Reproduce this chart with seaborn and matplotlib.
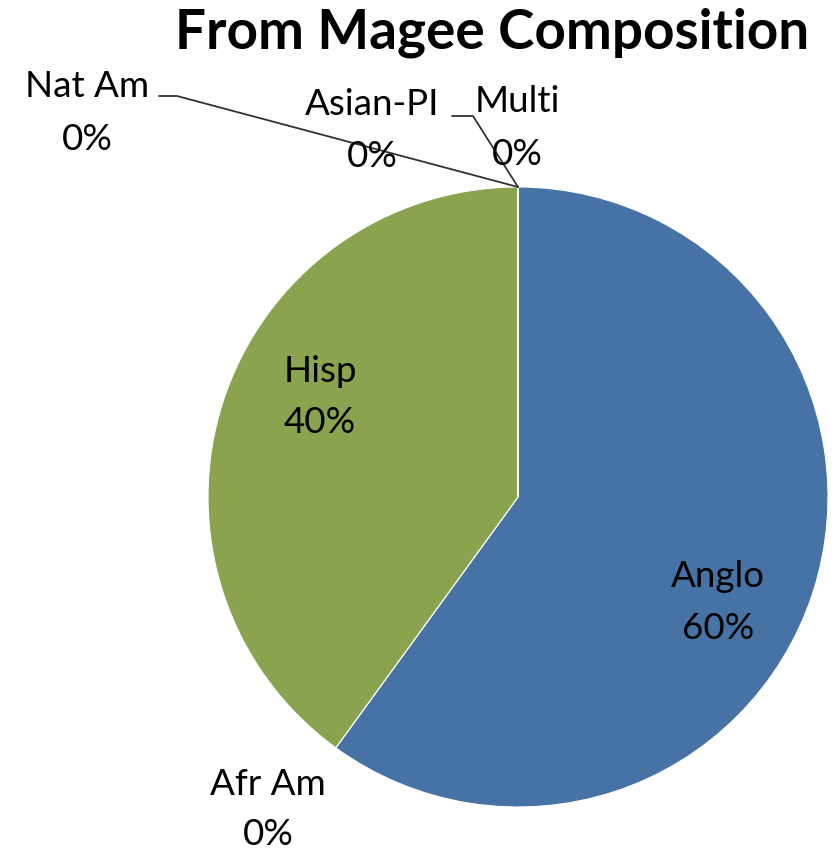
import numpy as np
import matplotlib
matplotlib.use("Agg")
import matplotlib.pyplot as plt
import seaborn as sns

# Composition of students coming from Magee
groups = ["Anglo", "Afr Am", "Hisp", "Nat Am", "Asian-PI", "Multi"]
shares = [60, 0, 40, 0, 0, 0]
slice_colors = ["#4672A6", "#C0504D", "#89A34F", "#7F5F9F", "#4BACC6", "#F79646"]
title = "From Magee Composition"

sns.set_style("white")
plt.rcParams["font.family"] = ["Lato", "DejaVu Sans"]

W, H = 837, 850
fig = plt.figure(figsize=(W / 100, H / 100), dpi=100)

# Pie centre and radius in pixels (from top-left)
cx, cy, r = 518, 497, 310
ax = fig.add_axes([(cx - r) / W, (H - cy - r) / H, 2 * r / W, 2 * r / H])
wedges, _ = ax.pie(
    shares,
    colors=sns.color_palette(slice_colors),
    startangle=90,
    counterclock=False,
    radius=1,
    wedgeprops=dict(edgecolor="white", linewidth=0.8),
)
ax.set_xlim(-1, 1)
ax.set_ylim(-1, 1)
ax.set_aspect("equal")
ax.axis("off")

fs = 26.5
# name baseline / percent baseline positions in pixels (x centre, y from top)
label_pos = {
    "Anglo": (718, 587, 639),
    "Hisp": (320, 382, 433),
    "Nat Am": (87, 97, 150),
    "Asian-PI": (372, 115, 167),
    "Multi": (517, 112, 165),
    "Afr Am": (268, 795, 845),
}

for name, val in zip(groups, shares):
    x, y1, y2 = label_pos[name]
    fig.text(x / W, 1 - y1 / H, name, ha="center", va="baseline",
             fontsize=fs, color="black")
    fig.text(x / W, 1 - y2 / H, f"{val:.0f}%", ha="center", va="baseline",
             fontsize=fs, color="black")


def px_to_data(px, py):
    return ax.transData.inverted().transform((px, H - py))


# leader lines from the labels to the zero-width slices at the top of the pie
leaders = {"Nat Am": [(159, 96), (177, 96)], "Multi": [(452, 116), (473, 116)]}
for name, pts in leaders.items():
    w = wedges[groups.index(name)]
    th = np.deg2rad(w.theta1)
    tip = (w.r * np.cos(th) + w.center[0], w.r * np.sin(th) + w.center[1])
    xy = [px_to_data(*p) for p in pts] + [tip]
    xs, ys = zip(*xy)
    ax.plot(xs, ys, color="#333333", lw=1.3, clip_on=False, zorder=5)

fig.text(492 / W, 1 - 48 / H, title, ha="center", va="baseline",
         fontsize=39.5, fontweight="bold", color="black")

fig.savefig("out.png", dpi=100)
